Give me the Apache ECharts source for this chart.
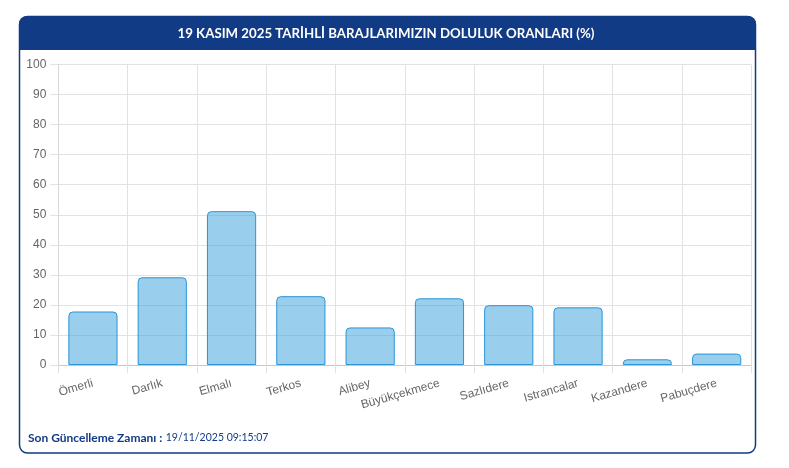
<!DOCTYPE html>
<html>
<head>
<meta charset="utf-8">
<script src="https://cdn.jsdelivr.net/npm/echarts@6/dist/echarts.min.js"></script>
<style>
html,body{margin:0;padding:0;background:#fff;}
#chart{width:789px;height:468px;}
</style>
</head>
<body>
<div id="chart"></div>
<script>
const titleText = '19 KASIM 2025 TARİHLİ BARAJLARIMIZIN DOLULUK ORANLARI (%)';
const footerLabel = 'Son Güncelleme Zamanı :';
const footerValue = '19/11/2025 09:15:07';
const categories = ['Ömerli','Darlık','Elmalı','Terkos','Alibey','Büyükçekmece','Sazlıdere','Istrancalar','Kazandere','Pabuçdere'];
const values = [17.8, 29.2, 51.2, 22.9, 12.5, 22.2, 19.9, 19.2, 1.9, 3.8];
const yTicks = {min: 0, max: 100, interval: 10};

const navy = '#123B85';
const labelFont = '"Liberation Sans", Arial, Helvetica, sans-serif';

// measure header text width so it spans the same width as the reference
const cv = document.createElement('canvas').getContext('2d');
cv.font = 'bold 13px Lato';
const tw = cv.measureText(titleText).width;
const titleScale = 417 / tw;

const chart = echarts.init(document.getElementById('chart'), null, {renderer: 'canvas'});
chart.setOption({
  animation: false,
  backgroundColor: '#fff',
  graphic: [
    {type: 'rect', z: -10, shape: {x: 19.5, y: 16.5, width: 736, height: 436.5, r: 8},
     style: {fill: '#fff', stroke: navy, lineWidth: 1.5}},
    {type: 'rect', z: -9, shape: {x: 19, y: 16, width: 737, height: 34, r: [8, 8, 0, 0]},
     style: {fill: navy}},
    {type: 'text', z: 10, x: 386, y: 33.5, scaleX: titleScale,
     style: {text: titleText, fill: '#fff', font: 'bold 13px Lato', textAlign: 'center', textVerticalAlign: 'middle'}},
    {type: 'text', z: 10, x: 28, y: 438,
     style: {
       text: '{a|' + footerLabel + '} {b|' + footerValue + '}',
       fill: navy,
       textVerticalAlign: 'middle',
       rich: {
         a: {fontFamily: 'Lato', fontWeight: 'bold', fontSize: 12, fill: navy},
         b: {fontFamily: 'Lato', fontWeight: 'normal', fontSize: 10.5, fill: navy}
       }
     }}
  ],
  grid: {left: 58.3, right: 37.7, top: 64.5, bottom: 103, containLabel: false},
  xAxis: {
    type: 'category',
    data: categories,
    boundaryGap: true,
    axisLine: {show: true, lineStyle: {color: '#c8c8c8', width: 1}},
    axisTick: {show: true, length: 8, alignWithLabel: false, lineStyle: {color: '#e2e2e2'}},
    axisLabel: {rotate: 16, margin: 18, color: '#666', fontSize: 12, fontFamily: labelFont, interval: 0},
    splitLine: {show: true, lineStyle: {color: '#e2e2e2', width: 1}}
  },
  yAxis: {
    type: 'value',
    min: yTicks.min, max: yTicks.max, interval: yTicks.interval,
    axisLine: {show: true, lineStyle: {color: '#d6d6d6', width: 1}},
    axisTick: {show: true, length: 8, lineStyle: {color: '#e2e2e2'}},
    axisLabel: {margin: 12, color: '#666', fontSize: 12, fontFamily: labelFont},
    splitLine: {show: true, lineStyle: {color: '#e2e2e2', width: 1}}
  },
  series: [{
    type: 'bar',
    data: values,
    barWidth: '71%',
    itemStyle: {
      color: 'rgba(52,158,220,0.5)',
      borderColor: '#2a95d8',
      borderWidth: 1,
      borderRadius: [4, 4, 0, 0]
    }
  }]
});
</script>
</body>
</html>
